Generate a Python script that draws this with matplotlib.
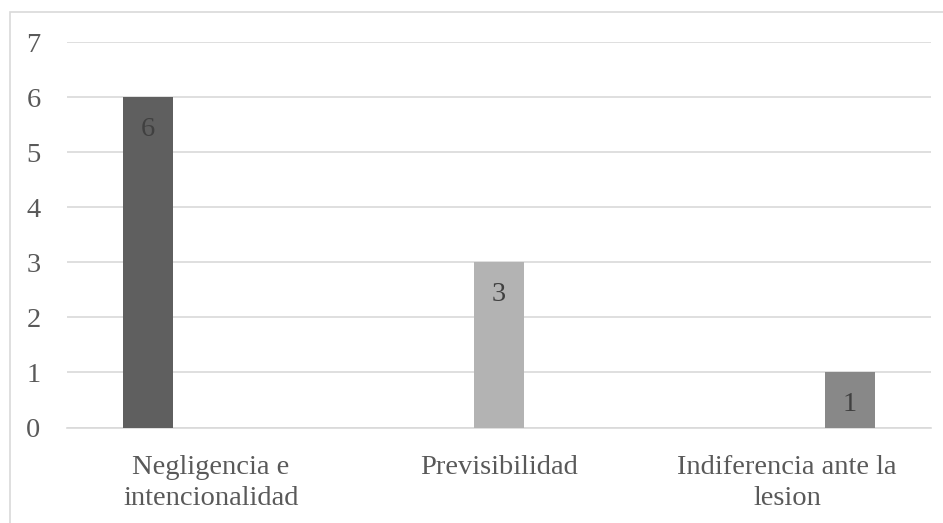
import matplotlib.pyplot as plt
from matplotlib.patches import Rectangle

categories = ["Negligencia e\nintencionalidad", "Previsibilidad", "Indiferencia ante la\nlesion"]
series_values = [
    [6, 0, 0],
    [0, 3, 0],
    [0, 0, 1],
]
series_colors = ["#5f5f5f", "#b3b3b3", "#888888"]
y_ticks = [0, 1, 2, 3, 4, 5, 6, 7]

W, H = 943, 523
fig = plt.figure(figsize=(W / 100, H / 100), dpi=100)
plt.rcParams['font.family'] = ['Liberation Serif', 'DejaVu Serif']
FS = 20.5

# plot area in pixels: x 67..931, y 42..427 (from top)
left, right, top, bottom = 67, 931, 42, 427.5
ax = fig.add_axes([left / W, 1 - bottom / H, (right - left) / W, (bottom - top) / H])

cat_px = (right - left) / len(categories)
bar_w = 50 / cat_px
offset = 63 / cat_px

for j, (vals, col) in enumerate(zip(series_values, series_colors)):
    for i, v in enumerate(vals):
        if v == 0:
            continue
        x = i + (j - 1) * offset
        ax.bar(x, v, width=bar_w, color=col, zorder=3)
        ax.annotate(str(v), xy=(x, v), xytext=(0, -32.5 * 0.72), textcoords="offset points",
                    ha="center", va="center", fontsize=FS, color="#404040", zorder=4)

ax.set_xlim(-0.5, len(categories) - 0.5)
ax.set_ylim(0, 7)
ax.set_yticks(y_ticks)
ax.set_yticklabels([str(t) for t in y_ticks])
ax.set_xticks(range(len(categories)))
ax.set_xticklabels(categories, linespacing=1.35)
ax.tick_params(axis="both", length=0, labelsize=FS, colors="#595959")
ax.tick_params(axis="y", pad=19)
ax.tick_params(axis="x", pad=19.5)
ax.grid(axis="y", color="#d9d9d9", linewidth=1.2, zorder=0)
for s in ["top", "right", "left"]:
    ax.spines[s].set_visible(False)
ax.spines["bottom"].set_color("#d9d9d9")
ax.spines["bottom"].set_linewidth(1.2)

# chart frame
fig.patches.append(Rectangle((9.5 / W, -0.1), 1.2, 1 - 12.5 / H + 0.1, transform=fig.transFigure,
                             fill=False, edgecolor="#d9d9d9", linewidth=1.2))

fig.savefig("out.png", dpi=100)
